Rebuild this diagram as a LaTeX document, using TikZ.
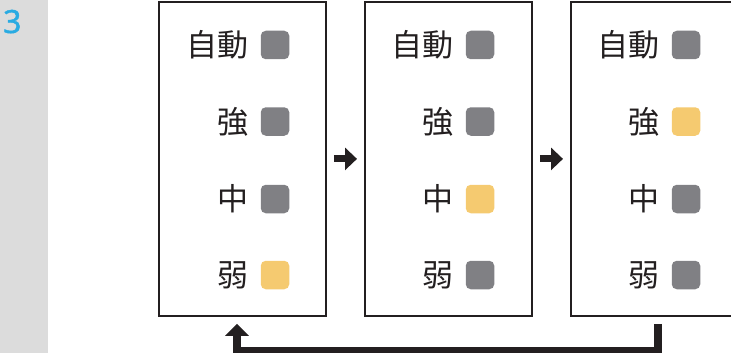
\documentclass[tikz,border=0pt]{standalone}
\usepackage{fontspec}
\newfontfamily\jpfont{Noto Sans CJK JP}
\newfontfamily\numfont[FakeBold=1.2]{Noto Sans}
\usetikzlibrary{arrows.meta,calc}
\definecolor{lineblk}{HTML}{231F20}
\definecolor{lampgray}{HTML}{808084}
\definecolor{lampyel}{HTML}{F5CA70}
\definecolor{stripgray}{HTML}{DCDCDC}
\definecolor{numcyan}{HTML}{29ABE2}
\tikzset{
  panel/.style={draw=lineblk, line width=1.8pt, minimum width=167pt, minimum height=314pt, inner sep=0pt, anchor=north west},
  lamp/.style={rounded corners=5pt, minimum size=28.5pt, inner sep=0pt},
  lampoff/.style={lamp, fill=lampgray},
  lampon/.style={lamp, fill=lampyel},
  lbl/.style={font=\jpfont\fontsize{31}{31}\selectfont, text=lineblk, anchor=east, inner sep=0pt},
  flowarrow/.style={draw=lineblk, line width=7pt, -{Triangle[length=12pt,width=22pt]}, shorten <=7pt, shorten >=7pt},
  backarrow/.style={draw=lineblk, line width=7.5pt, line join=miter, -{Triangle[length=12pt,width=23pt]}, shorten <=7pt, shorten >=7pt}
}
\begin{document}
\begin{tikzpicture}[x=1pt,y=-1pt]
\useasboundingbox (0,0) rectangle (731,353);
\fill[stripgray] (0,0) rectangle (48,353);
\node[font=\numfont\fontsize{32}{32}\selectfont, text=numcyan, anchor=base west, inner sep=0pt] (num) at (3,33) {3};

\node[panel] (b1) at (158,1) {};
\node[panel] (b2) at (364,1) {};
\node[panel] (b3) at (570,1) {};

% panel 1
\node[lampoff] (l1a) at (275,45) {};
\node[lampoff] (l1b) at (275,121.5) {};
\node[lampoff] (l1c) at (275,199) {};
\node[lampon]  (l1d) at (275,275) {};
\node[lbl] (t1a) at (249,45) {自動};
\node[lbl] (t1b) at (249,121.5) {強};
\node[lbl] (t1c) at (249,199) {中};
\node[lbl] (t1d) at (249,275) {弱};

% panel 2
\node[lampoff] (l2a) at (480,45) {};
\node[lampoff] (l2b) at (480,121.5) {};
\node[lampon]  (l2c) at (480,199) {};
\node[lampoff] (l2d) at (480,275) {};
\node[lbl] (t2a) at (454,45) {自動};
\node[lbl] (t2b) at (454,121.5) {強};
\node[lbl] (t2c) at (454,199) {中};
\node[lbl] (t2d) at (454,275) {弱};

% panel 3
\node[lampoff] (l3a) at (686,45) {};
\node[lampon]  (l3b) at (686,121.5) {};
\node[lampoff] (l3c) at (686,199) {};
\node[lampoff] (l3d) at (686,275) {};
\node[lbl] (t3a) at (660,45) {自動};
\node[lbl] (t3b) at (660,121.5) {強};
\node[lbl] (t3c) at (660,199) {中};
\node[lbl] (t3d) at (660,275) {弱};

% arrows
\draw[flowarrow] (b1.east) -- (b2.west);
\draw[flowarrow] (b2.east) -- (b3.west);
\coordinate (s3) at ($(b3.south west)+(88,0)$);
\coordinate (s1) at ($(b1.south west)+(79,0)$);
\draw[backarrow] (s3) -- ($(s3)+(0,33.5)$) -| (s1);
\end{tikzpicture}
\end{document}
